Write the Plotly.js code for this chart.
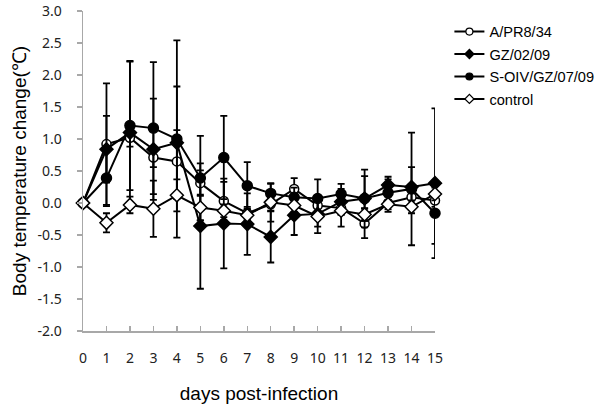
<!DOCTYPE html>
<html><head><meta charset="utf-8">
<script src="https://cdn.plot.ly/plotly-3.0.1.min.js"></script>
<style>html,body{margin:0;padding:0;background:#fff}#chart{width:600px;height:409px}</style>
</head><body><div id="chart"></div>
<script>
var days = [0,1,2,3,4,5,6,7,8,9,10,11,12,13,14,15];
var seriesNames = ["A/PR8/34","GZ/02/09","S-OIV/GZ/07/09","control"];
var prValues   = [0,0.92,1.02,0.71,0.65,0.31,0.03,-0.16,-0.02,0.22,-0.04,-0.08,-0.32,0.00,0.09,0.04];
var gzValues   = [0,0.84,1.10,0.84,0.94,-0.36,-0.32,-0.33,-0.53,-0.19,-0.17,0.02,0.07,0.28,0.25,0.31];
var soivValues = [0,0.39,1.21,1.17,1.00,0.39,0.71,0.27,0.15,0.09,0.07,0.14,0.07,0.16,0.22,-0.16];
var ctrlValues = [0,-0.31,-0.03,-0.09,0.12,-0.07,-0.12,-0.19,0.01,-0.04,-0.21,-0.12,-0.18,-0.02,-0.06,0.14];
var prErr   = [0,0.95,0.14,0.15,0.49,0.20,0.30,0.10,0.10,0.17,0.10,0.10,0.23,0.10,0.10,0.10];
var gzErr   = [0,0.52,1.11,0.79,0.88,0.98,0.70,0.48,0.40,0.31,0.20,0.20,0.35,0.13,0.31,1.17];
var soivErr = [0,0.44,1.01,1.03,1.54,0.66,0.65,0.37,0.15,0.15,0.30,0.16,0.45,0.21,0.88,0.48];
var ctrlErr = [0,0.15,0.13,0.44,0.25,0.20,0.10,0.10,0.30,0.10,0.26,0.25,0.10,0.12,0.10,0.10];
var yTickVals = [-2,-1.5,-1,-0.5,0,0.5,1,1.5,2,2.5,3];
var yTickText = ["-2.0","-1.5","-1.0","-0.5","0.0","0.5","1.0","1.5","2.0","2.5","3.0"];

var styles = [
  {symbol: 'circle', fill: '#fff', size: 9},
  {symbol: 'diamond', fill: '#000', size: 10},
  {symbol: 'circle', fill: '#000', size: 10},
  {symbol: 'diamond', fill: '#fff', size: 10}
];
var values = [prValues, gzValues, soivValues, ctrlValues];
var errs = [prErr, gzErr, soivErr, ctrlErr];

var data = [];
for (var i = 0; i < 4; i++) {
  data.push({
    x: days, y: values[i], name: seriesNames[i], type: 'scatter', mode: 'lines+markers',
    cliponaxis: false, showlegend: false,
    line: {color: '#000', width: 2},
    marker: {symbol: styles[i].symbol, size: styles[i].size, color: styles[i].fill, line: {color: '#000', width: 1.5}},
    error_y: {type: 'data', array: errs[i], visible: true, color: '#000', thickness: 1.8, width: 3.5}
  });
}
// legend-only entries with smaller markers, as in the reference legend
for (var j = 0; j < 4; j++) {
  data.push({
    x: [null], y: [null], name: seriesNames[j], type: 'scatter', mode: 'lines+markers',
    showlegend: true, legendgroup: 'g' + j,
    line: {color: '#000', width: 2},
    marker: {symbol: styles[j].symbol, size: 7, color: styles[j].fill, line: {color: '#000', width: 1.2}}
  });
}
var layout = {
  width: 600, height: 409,
  margin: {l: 83, r: 165, t: 11, b: 78},
  paper_bgcolor: '#fff', plot_bgcolor: '#fff',
  showlegend: true,
  legend: {xref: 'container', yref: 'container', x: 0.749, y: 0.962, xanchor: 'left', yanchor: 'top', bgcolor: 'rgba(0,0,0,0)',
           font: {family: 'Arial, Liberation Sans', size: 14.6, color: '#000'}, tracegroupgap: 0.5, itemwidth: 30},
  xaxis: {
    range: [0, 15], tickmode: 'array', tickvals: days, ticktext: days.map(String),
    showgrid: false, zeroline: false, showline: true, linecolor: '#a8a8a8', linewidth: 1.5,
    ticks: 'inside', ticklen: 5, tickcolor: '#a8a8a8', tickwidth: 1.5,
    ticklabelstandoff: 14,
    tickfont: {family: 'Noto Sans, Open Sans', size: 14, color: '#222'},
    title: {text: 'days post-infection', font: {family: 'Arial, Liberation Sans', size: 19, color: '#000'}, standoff: 20}
  },
  yaxis: {
    range: [-2, 3], tickmode: 'array', tickvals: yTickVals, ticktext: yTickText,
    showgrid: false, zeroline: false, showline: true, linecolor: '#a8a8a8', linewidth: 1.5,
    ticks: 'outside', ticklen: 5, tickcolor: '#a8a8a8', tickwidth: 1.5,
    ticklabelstandoff: 12,
    tickfont: {family: 'Noto Sans, Open Sans', size: 14, color: '#222'},
    title: {text: 'Body temperature change(℃)', font: {family: 'Arial, Liberation Sans', size: 19, color: '#000'}, standoff: 6}
  }
};
Plotly.newPlot('chart', data, layout, {displayModeBar: false, staticPlot: true});
</script></body></html>
